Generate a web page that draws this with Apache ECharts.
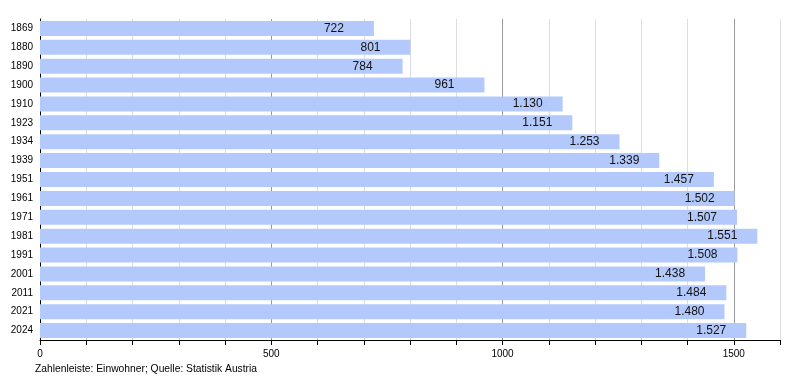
<!DOCTYPE html>
<html><head><meta charset="utf-8">
<script src="https://cdn.jsdelivr.net/npm/echarts@6/dist/echarts.min.js"></script>
<style>html,body{margin:0;padding:0;background:#fff}#c{width:800px;height:380px}</style>
</head><body><div id="c"></div>
<script>
const years = ['1869','1880','1890','1900','1910','1923','1934','1939','1951','1961','1971','1981','1991','2001','2011','2021','2024'];
const population = [722,801,784,961,1130,1151,1253,1339,1457,1502,1507,1551,1508,1438,1484,1480,1527];
const xTickLabels = [0,500,1000,1500];
const footnote = 'Zahlenleiste: Einwohner; Quelle: Statistik Austria';

function fmt(v){ return String(v).replace(/\B(?=(\d{3})+(?!\d))/g,'.'); }
const font = 'Liberation Sans, Arial, sans-serif';
const chart = echarts.init(document.getElementById('c'));
chart.setOption({
  animation:false,
  backgroundColor:'#fff',
  grid:{left:40,right:20,top:19,bottom:40,containLabel:false},
  xAxis:{type:'value',min:0,max:1600,interval:100,
    axisLine:{show:true,lineStyle:{color:'#000',width:1}},
    axisTick:{show:true,length:5,lineStyle:{color:'#000'}},
    axisLabel:{fontFamily:font,fontSize:10,color:'#000',margin:9,
      formatter:v=> xTickLabels.indexOf(v)>=0 ? String(v) : ''},
    splitLine:{show:true,lineStyle:{color:['#999','#ddd','#ddd','#ddd','#ddd'],width:1}}
  },
  yAxis:{type:'category',data:years,inverse:true,
    axisLine:{show:true,lineStyle:{color:'#000',width:1}},
    axisTick:{show:false},
    axisLabel:{fontFamily:font,fontSize:10,color:'#000',margin:7}
  },
  series:[{type:'bar',data:population,barWidth:15,
    itemStyle:{color:'#b3c9fb'},
    label:{show:true,position:['100%','50%'],offset:[-50,0],align:'left',verticalAlign:'middle',
      fontFamily:font,fontSize:12,color:'#111',formatter:p=>fmt(p.value)}
  }],
  graphic:[{type:'text',left:35,top:364,style:{text:footnote,fontFamily:font,fontSize:10.3,fill:'#000'}}]
});
</script></body></html>
